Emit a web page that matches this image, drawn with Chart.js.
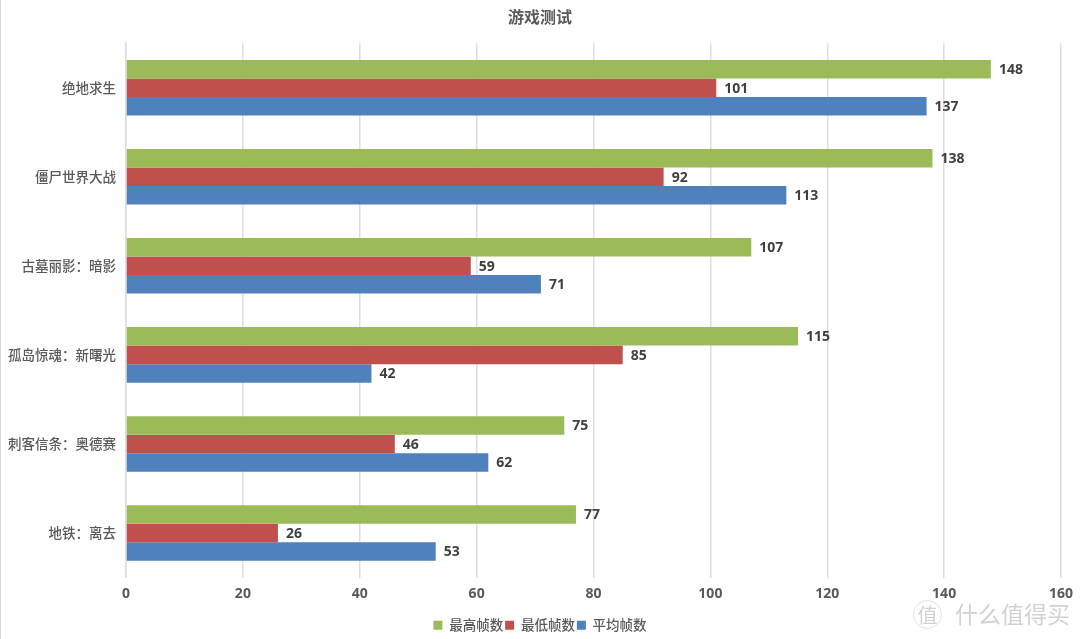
<!DOCTYPE html>
<html>
<head>
<meta charset="utf-8">
<style>
html, body { margin: 0; padding: 0; background: #fff; }
#wrap { position: relative; width: 1080px; height: 639px; overflow: hidden; }
#wrap:before { content: ""; position: absolute; left: 0; top: 0; bottom: 0; width: 1px; background: #d9d9d9; }
.mark { position: absolute; color: #d2d2d2; font-family: "Noto Sans CJK SC"; }
#seal { left: 913px; top: 600px; width: 29px; height: 29px; line-height: 27px; text-align: center; font-size: 20px; border: 1px solid #e2e2e2; border-radius: 50%; box-sizing: border-box; }
#brand { left: 955px; top: 598px; font-size: 23px; line-height: 30px; white-space: nowrap; }
</style>
</head>
<body>
<div id="wrap">
<canvas id="chart" width="1080" height="639"></canvas>
<div class="mark" id="seal">值</div>
<div class="mark" id="brand">什么值得买</div>
</div>
<script src="https://cdn.jsdelivr.net/npm/chart.js@4"></script>
<script>
const categories = ["绝地求生", "僵尸世界大战", "古墓丽影：暗影", "孤岛惊魂：新曙光", "刺客信条：奥德赛", "地铁：离去"];
const highest = [148, 138, 107, 115, 75, 77];
const lowest = [101, 92, 59, 85, 46, 26];
const average = [137, 113, 71, 42, 62, 53];
const xTicks = [0, 20, 40, 60, 80, 100, 120, 140, 160];

const fontFamily = '"Noto Sans CJK SC", "Open Sans", sans-serif';
const textColor = "#595959";

// value labels at the end of each bar
const barLabels = {
    id: "barLabels",
    afterDatasetsDraw(chart) {
        const ctx = chart.ctx;
        ctx.save();
        ctx.font = 'bold 14px "Open Sans", sans-serif';
        ctx.fillStyle = "#404040";
        ctx.textAlign = "left";
        ctx.textBaseline = "middle";
        chart.data.datasets.forEach((ds, i) => {
            chart.getDatasetMeta(i).data.forEach((bar, j) => {
                ctx.fillText(ds.data[j], bar.x + 8, bar.y + 1);
            });
        });
        ctx.restore();
    },
};

new Chart(document.querySelector("#chart"), {
    type: "bar",
    data: {
        labels: categories,
        datasets: [
            { label: "最高帧数", data: highest, backgroundColor: "#9BBB59" },
            { label: "最低帧数", data: lowest, backgroundColor: "#C0504D" },
            { label: "平均帧数", data: average, backgroundColor: "#4F81BD" },
        ],
    },
    options: {
        indexAxis: "y",
        responsive: false,
        animation: false,
        categoryPercentage: 0.624,
        barPercentage: 1,
        layout: { padding: { bottom: -3 } },
        scales: {
            x: {
                min: 0,
                max: 160,
                afterBuildTicks(axis) {
                    axis.ticks = xTicks.map((v) => ({ value: v }));
                },
                afterFit(axis) {
                    axis.height = 39;
                    axis.paddingRight = 19;
                },
                grid: { color: "#dedede", lineWidth: 1.5, drawTicks: false },
                border: { display: false },
                ticks: {
                    padding: 8,
                    maxRotation: 0,
                    color: textColor,
                    font: { family: '"Open Sans", sans-serif', size: 14, weight: "bold" },
                },
            },
            y: {
                afterFit(axis) {
                    axis.width = 126;
                },
                grid: { display: false, drawTicks: false },
                border: { display: true, color: "#dedede", width: 1.5 },
                ticks: {
                    padding: 10,
                    color: textColor,
                    font: { family: fontFamily, size: 13.5, weight: "500" },
                },
            },
        },
        plugins: {
            title: {
                display: true,
                text: "游戏测试",
                color: textColor,
                padding: { top: 7, bottom: 17 },
                font: { family: fontFamily, size: 16, weight: "bold" },
            },
            legend: {
                position: "bottom",
                labels: {
                    boxWidth: 9,
                    boxHeight: 9,
                    padding: 2,
                    color: textColor,
                    font: { family: fontFamily, size: 13.5, weight: "500" },
                },
            },
            tooltip: { enabled: false },
        },
    },
    plugins: [barLabels],
});
</script>
</body>
</html>
